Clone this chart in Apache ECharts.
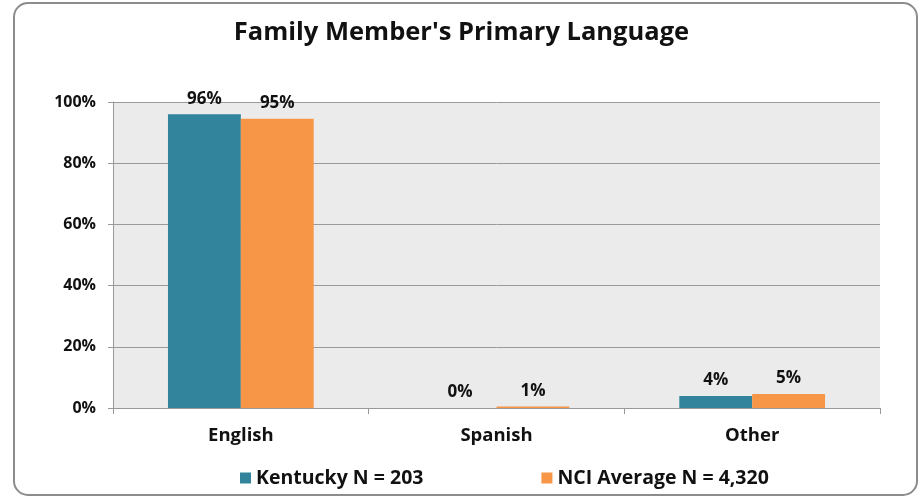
<!DOCTYPE html>
<html lang="en">
<head>
    <meta charset="UTF-8">
    <title>Family Member's Primary Language</title>
    <script src="https://cdn.jsdelivr.net/npm/echarts@6/dist/echarts.min.js"></script>
    <style>
        html, body { margin: 0; padding: 0; background: #fff; }
        #chart { width: 923px; height: 499px; }
    </style>
</head>
<body>
<div id="chart"></div>
<script>
    // data
    var categories = ['English', 'Spanish', 'Other'];
    var kentucky = [96, 0, 3.9];
    var nciAverage = [94.5, 0.5, 4.6];
    var yTicks = [0, 20, 40, 60, 80, 100];

    var font = 'Open Sans';
    var myChart = echarts.init(document.getElementById('chart'));

    var labelOpt = {
        show: true,
        position: 'top',
        distance: 7,
        fontFamily: font,
        fontWeight: 'bold',
        fontSize: 17,
        color: '#111',
        formatter: function (p) { return Math.round(p.value) + '%'; }
    };

    var option = {
        animation: false,
        textStyle: { fontFamily: font },
        graphic: [{
            type: 'rect',
            shape: { x: 14, y: 3, width: 903, height: 492, r: 14 },
            style: { fill: 'none', stroke: '#8c8c8c', lineWidth: 2 },
            z: -10
        }],
        title: {
            text: "Family Member's Primary Language",
            left: 'center',
            top: 15,
            textStyle: { fontFamily: font, fontWeight: 'bold', fontSize: 25.5, color: '#111' }
        },
        legend: {
            bottom: 6,
            left: 235,
            itemGap: 118,
            itemWidth: 11,
            itemHeight: 11,
            icon: 'rect',
            textStyle: { fontFamily: font, fontWeight: 'bold', fontSize: 19.5, color: '#111' },
            data: ['Kentucky N = 203', 'NCI Average N = 4,320']
        },
        grid: {
            left: 113, right: 43, top: 102, bottom: 91,
            show: true, backgroundColor: '#ebebeb', borderWidth: 0
        },
        xAxis: {
            type: 'category',
            data: categories,
            axisLine: { lineStyle: { color: '#999', width: 1 } },
            axisTick: { show: true, length: 6, lineStyle: { color: '#999' } },
            axisLabel: { fontFamily: font, fontWeight: 'bold', fontSize: 18.5, color: '#111', margin: 18 }
        },
        yAxis: {
            type: 'value',
            min: 0, max: 100, interval: 20,
            axisLine: { show: true, lineStyle: { color: '#999' } },
            axisTick: { show: true, length: 5, lineStyle: { color: '#999' } },
            splitLine: { lineStyle: { color: '#9a9a9a', width: 1 } },
            axisLabel: {
                fontFamily: font, fontWeight: 'bold', fontSize: 16, color: '#111', margin: 17,
                formatter: function (v) { return yTicks.indexOf(v) >= 0 ? v + '%' : ''; }
            }
        },
        series: [{
            name: 'Kentucky N = 203',
            type: 'bar',
            data: kentucky,
            barGap: '0%',
            barCategoryGap: '43%',
            itemStyle: { color: '#31849b' },
            label: labelOpt
        }, {
            name: 'NCI Average N = 4,320',
            type: 'bar',
            data: nciAverage,
            barGap: '0%',
            barCategoryGap: '43%',
            itemStyle: { color: '#f79646' },
            label: labelOpt
        }]
    };
    myChart.setOption(option);
</script>
</body>
</html>
